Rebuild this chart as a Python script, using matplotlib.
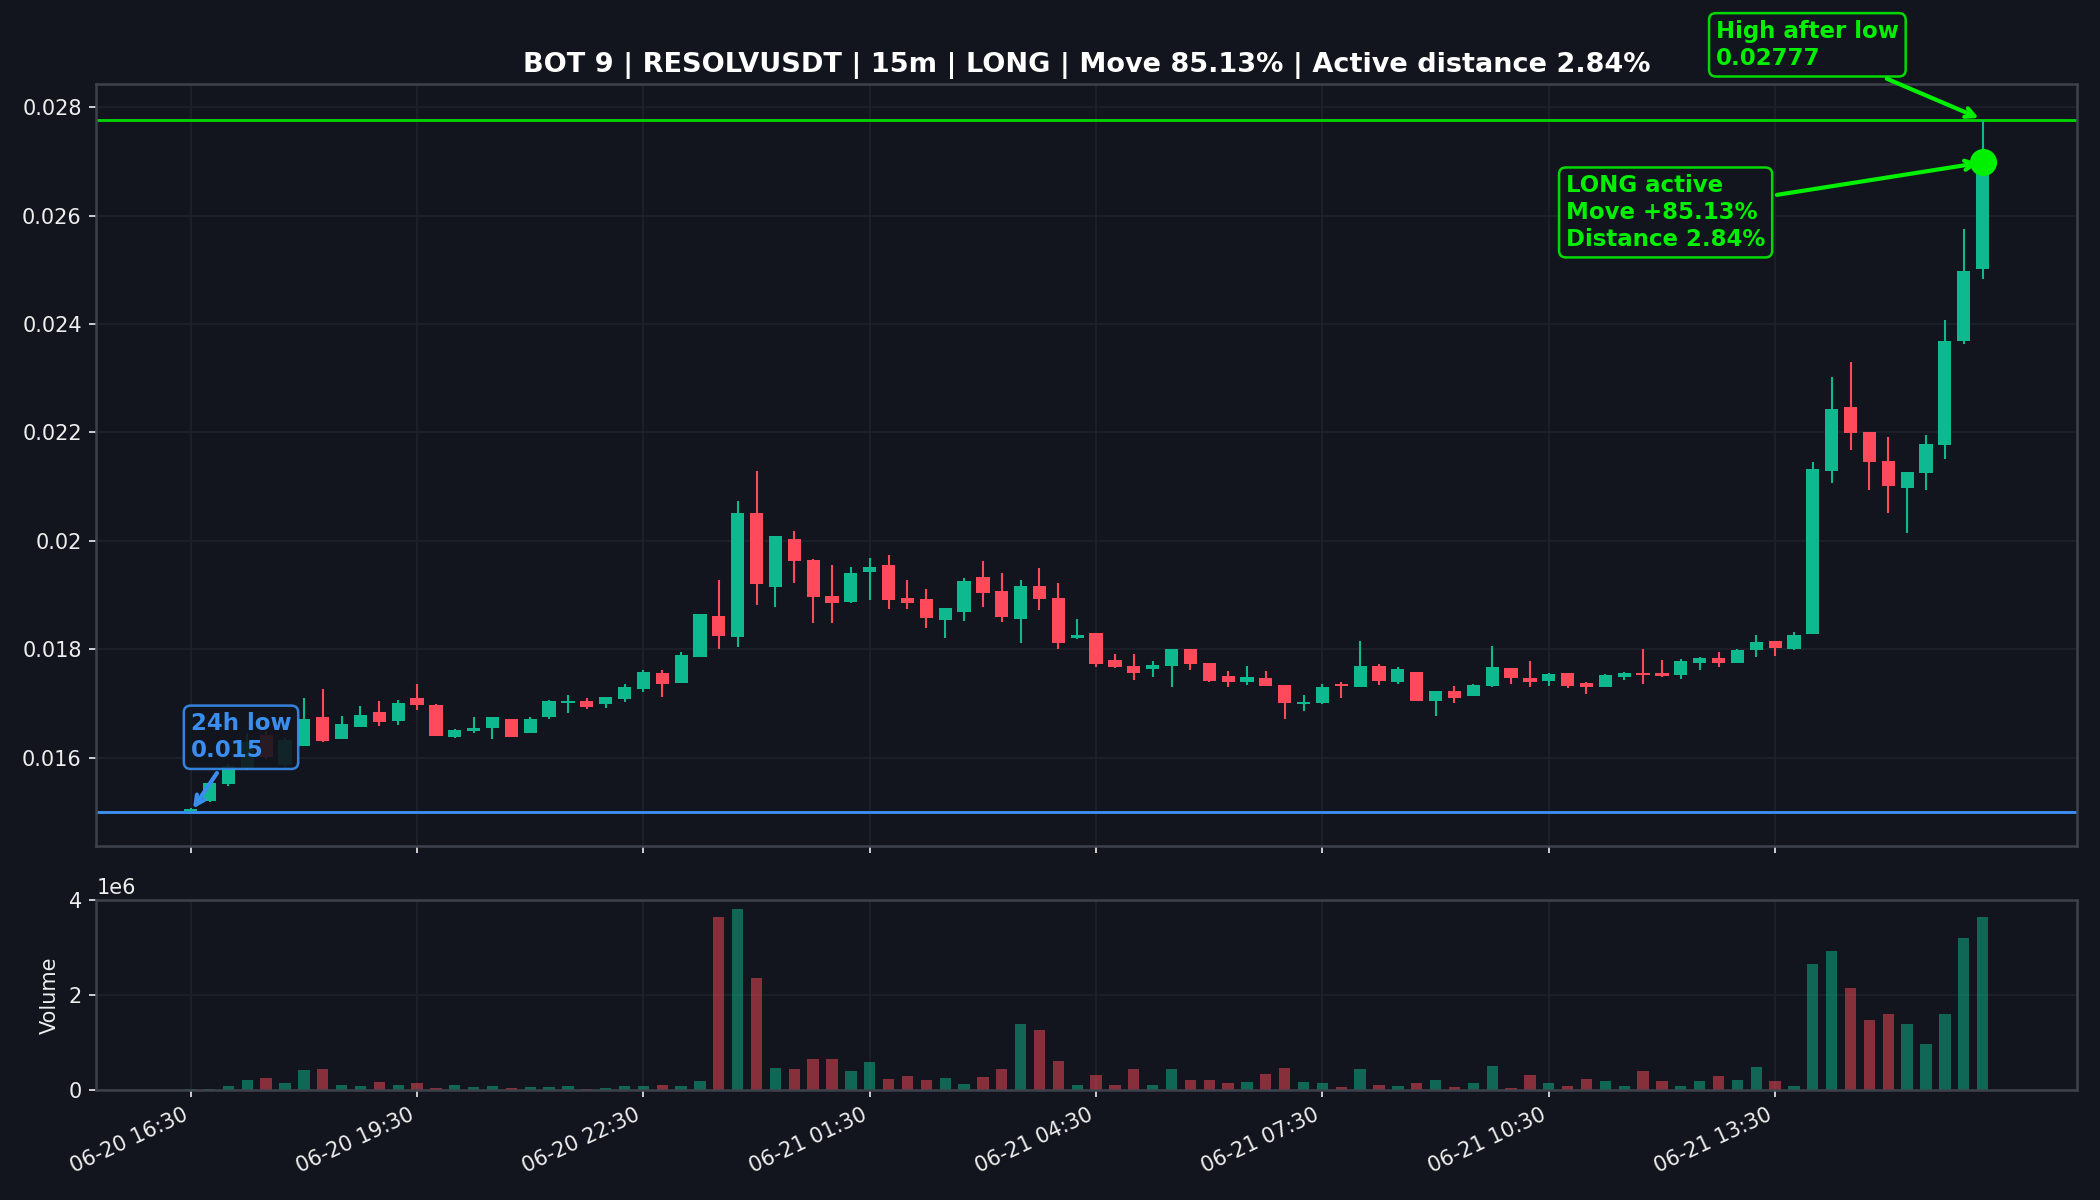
import numpy as np
import pandas as pd
import matplotlib
matplotlib.use("Agg")
import matplotlib.pyplot as plt
from matplotlib.ticker import MultipleLocator, FuncFormatter

# 15m candles, 06-20 16:30 -> 06-21 16:15
times = pd.date_range("2025-06-20 16:30", periods=96, freq="15min")

opens = [0.01502, 0.01521, 0.01551, 0.01582, 0.01642, 0.01587, 0.016225, 0.016747, 0.016347, 0.016575,
         0.016845, 0.016679, 0.017097, 0.016974, 0.016391, 0.016501, 0.016544, 0.01671, 0.016464, 0.016747,
         0.017005, 0.017048, 0.016987, 0.017085, 0.017269, 0.017558, 0.017386, 0.017866, 0.018616, 0.018235,
         0.020509, 0.019157, 0.020036, 0.019648, 0.018984, 0.01888, 0.019433, 0.019556, 0.018941, 0.018923,
         0.018542, 0.018689, 0.019335, 0.019077, 0.01856, 0.019169, 0.018941, 0.018204, 0.018296, 0.017804,
         0.017694, 0.017633, 0.0177, 0.018002, 0.017743, 0.01751, 0.017405, 0.017467, 0.017344, 0.016987,
         0.017006, 0.017368, 0.017313, 0.017694, 0.017393, 0.017577, 0.017055, 0.01724, 0.017147, 0.017332,
         0.017651, 0.017467, 0.017424, 0.01756, 0.017386, 0.017312, 0.017497, 0.017558, 0.01757, 0.017527,
         0.017742, 0.017847, 0.017755, 0.017982, 0.018154, 0.017999, 0.01829, 0.021289, 0.022475, 0.022008,
         0.021473, 0.020982, 0.021258, 0.021775, 0.02368, 0.025008]
highs = [0.01507, 0.01556, 0.01588, 0.01645, 0.0165, 0.01636, 0.017097, 0.017263, 0.01677, 0.016956,
         0.017048, 0.017067, 0.017368, 0.01699, 0.01653, 0.016747, 0.01676, 0.01672, 0.01676, 0.01706,
         0.017159, 0.017097, 0.01712, 0.017362, 0.01762, 0.01762, 0.017945, 0.018652, 0.019279, 0.020736,
         0.021289, 0.0201, 0.020183, 0.01966, 0.019556, 0.019513, 0.019679, 0.01974, 0.019279, 0.019113,
         0.01876, 0.019322, 0.01963, 0.019402, 0.019279, 0.019507, 0.019218, 0.01856, 0.0183, 0.017909,
         0.017909, 0.017786, 0.018014, 0.01801, 0.01775, 0.017602, 0.017694, 0.017602, 0.01735, 0.01716,
         0.017362, 0.017405, 0.018155, 0.017725, 0.017676, 0.01758, 0.01724, 0.017325, 0.017362, 0.018063,
         0.01766, 0.017786, 0.01756, 0.01756, 0.01739, 0.017552, 0.017589, 0.017999, 0.017798, 0.017816,
         0.017865, 0.017957, 0.018013, 0.018265, 0.01816, 0.018326, 0.021461, 0.023029, 0.023305, 0.02201,
         0.021922, 0.02128, 0.021953, 0.024074, 0.025746, 0.02777]
lows = [0.015, 0.01519, 0.01549, 0.01578, 0.01598, 0.01583, 0.01621, 0.0163, 0.01634, 0.01657,
        0.016593, 0.016606, 0.016882, 0.0164, 0.01637, 0.016452, 0.01634, 0.01638, 0.01646, 0.016722,
        0.016833, 0.016901, 0.016925, 0.017024, 0.017208, 0.017128, 0.01738, 0.017866, 0.018007, 0.01805,
        0.01882, 0.018788, 0.01923, 0.01848, 0.018493, 0.018849, 0.018911, 0.018745, 0.018745, 0.018401,
        0.018216, 0.018523, 0.018788, 0.018511, 0.018112, 0.018726, 0.018007, 0.0182, 0.017669, 0.01765,
        0.017436, 0.017498, 0.017313, 0.01762, 0.017405, 0.017313, 0.017344, 0.01733, 0.016717, 0.016864,
        0.017, 0.017098, 0.0173, 0.017344, 0.017368, 0.01704, 0.016772, 0.017018, 0.01714, 0.017313,
        0.017362, 0.017313, 0.017332, 0.017295, 0.017171, 0.01731, 0.017435, 0.017355, 0.01749, 0.017447,
        0.017613, 0.017675, 0.01775, 0.017859, 0.017878, 0.017995, 0.01829, 0.021074, 0.021676, 0.020939,
        0.020521, 0.020152, 0.020939, 0.021517, 0.023625, 0.024824]
closes = [0.01505, 0.01554, 0.01585, 0.0163, 0.01601, 0.01633, 0.01671, 0.016317, 0.016624, 0.01679,
          0.016667, 0.017011, 0.016974, 0.016409, 0.016513, 0.016544, 0.016747, 0.016391, 0.01671, 0.017048,
          0.017048, 0.016944, 0.017116, 0.0173, 0.017577, 0.017362, 0.017896, 0.018652, 0.018253, 0.020509,
          0.019206, 0.020091, 0.019636, 0.018972, 0.018861, 0.019402, 0.019525, 0.018911, 0.018849, 0.018585,
          0.018757, 0.019261, 0.019046, 0.018603, 0.019169, 0.018929, 0.018124, 0.018265, 0.01773, 0.017681,
          0.017571, 0.017713, 0.018002, 0.017731, 0.017424, 0.017405, 0.017491, 0.017332, 0.017006, 0.017037,
          0.017313, 0.017325, 0.017694, 0.017424, 0.017633, 0.017049, 0.01724, 0.017098, 0.017338, 0.01767,
          0.017467, 0.017405, 0.017547, 0.017332, 0.017312, 0.017521, 0.01757, 0.017521, 0.017509, 0.017785,
          0.017847, 0.017755, 0.017982, 0.018142, 0.018019, 0.018259, 0.021332, 0.022438, 0.021996, 0.021455,
          0.021013, 0.021277, 0.021793, 0.02368, 0.024978, 0.02698]
volumes = [0.01, 0.03, 0.09, 0.20, 0.26, 0.14, 0.43, 0.45, 0.11, 0.09,
           0.16, 0.11, 0.14, 0.05, 0.11, 0.07, 0.09, 0.05, 0.07, 0.07,
           0.09, 0.03, 0.05, 0.09, 0.09, 0.11, 0.09, 0.18, 3.65, 3.82,
           2.36, 0.47, 0.45, 0.66, 0.66, 0.39, 0.58, 0.24, 0.30, 0.22,
           0.26, 0.13, 0.28, 0.45, 1.39, 1.26, 0.62, 0.11, 0.31, 0.11,
           0.44, 0.11, 0.44, 0.22, 0.22, 0.14, 0.16, 0.33, 0.46, 0.16,
           0.14, 0.07, 0.44, 0.11, 0.09, 0.14, 0.22, 0.07, 0.14, 0.50,
           0.05, 0.31, 0.14, 0.09, 0.24, 0.18, 0.09, 0.39, 0.18, 0.09,
           0.18, 0.29, 0.20, 0.48, 0.18, 0.09, 2.65, 2.93, 2.16, 1.47,
           1.60, 1.40, 0.97, 1.60, 3.21, 3.64]

low_24h = 0.015
high_after = 0.02777
move_pct = 85.13
dist_pct = 2.84

o = np.array(opens)
h = np.array(highs)
l = np.array(lows)
c = np.array(closes)
v = np.array(volumes) * 1e6
x = np.arange(len(o))

bg = "#12151d"
up_col = "#0fb98f"
down_col = "#ff4a5c"
lime = "#00f000"
blue = "#3a8ef0"
txt = "#eeeeee"
grid_col = "#1e222b"
spine_col = "#3c414c"

fig = plt.figure(figsize=(14, 8), dpi=150, facecolor=bg)
ax = fig.add_axes([0.0459, 0.2948, 0.9431, 0.6349], facecolor=bg)
axv = fig.add_axes([0.0459, 0.0917, 0.9431, 0.1585], facecolor=bg, sharex=ax)

up = c >= o
colors = np.where(up, up_col, down_col)

# candles
ax.vlines(x, l, h, colors=colors, lw=1.0, zorder=2)
body = np.maximum(np.abs(c - o), 0.00003)
ax.bar(x, body, bottom=np.minimum(o, c), width=0.7, color=colors, zorder=3)

ax.axhline(high_after, color=lime, lw=1.4, alpha=0.85, zorder=1)
ax.axhline(low_24h, color=blue, lw=1.4, zorder=1)
ax.plot(x[-1], c[-1], "o", ms=12, color=lime, zorder=5)

box_kw = dict(boxstyle="round,pad=0.3", fc=bg, lw=1.2, alpha=0.9)
ax.annotate(f"24h low\n{low_24h}", xy=(x[0], low_24h), xytext=(0, 24),
            textcoords="offset points", ha="left", va="bottom",
            color=blue, fontsize=11, fontweight="bold",
            bbox=dict(ec=blue, **box_kw),
            arrowprops=dict(arrowstyle="->", color=blue, lw=2), zorder=6)
ax.annotate(f"High after low\n{high_after}", xy=(x[-1], high_after), xytext=(-128, 24),
            textcoords="offset points", ha="left", va="bottom",
            color=lime, fontsize=11, fontweight="bold",
            bbox=dict(ec=lime, **box_kw),
            arrowprops=dict(arrowstyle="->", color=lime, lw=2), zorder=6)
ax.annotate(f"LONG active\nMove +{move_pct}%\nDistance {dist_pct}%", xy=(x[-1], c[-1]),
            xytext=(-200, -24), textcoords="offset points", ha="left", va="center",
            color=lime, fontsize=11, fontweight="bold",
            bbox=dict(ec=lime, **box_kw),
            arrowprops=dict(arrowstyle="->", color=lime, lw=2), zorder=6)

ax.set_title(f"BOT 9 | RESOLVUSDT | 15m | LONG | Move {move_pct}% | Active distance {dist_pct}%",
             color="white", fontsize=13, fontweight="bold")

# volume
axv.bar(x, v, width=0.6, color=colors, alpha=0.5)
axv.set_ylim(0, v.max() * 1.05)
axv.yaxis.set_major_locator(MultipleLocator(2e6))
axv.set_ylabel("Volume", color=txt, fontsize=10)

ax.set_xlim(-5, 100)
ax.set_ylim(0.01437, 0.02842)
ax.yaxis.set_major_locator(MultipleLocator(0.002))
ax.yaxis.set_major_formatter(FuncFormatter(lambda val, pos: f"{val:g}"))

tick_idx = x[::12]
axv.set_xticks(tick_idx)
axv.set_xticklabels([times[i].strftime("%m-%d %H:%M") for i in tick_idx], rotation=25, ha="right")
plt.setp(ax.get_xticklabels(), visible=False)

for a in (ax, axv):
    a.grid(True, color=grid_col, lw=0.8)
    a.set_axisbelow(True)
    a.tick_params(colors=txt, labelsize=10)
    for s in a.spines.values():
        s.set_color(spine_col)
        s.set_linewidth(1.2)
axv.yaxis.get_offset_text().set_color(txt)

fig.savefig("out.png", dpi=150, facecolor=bg)
